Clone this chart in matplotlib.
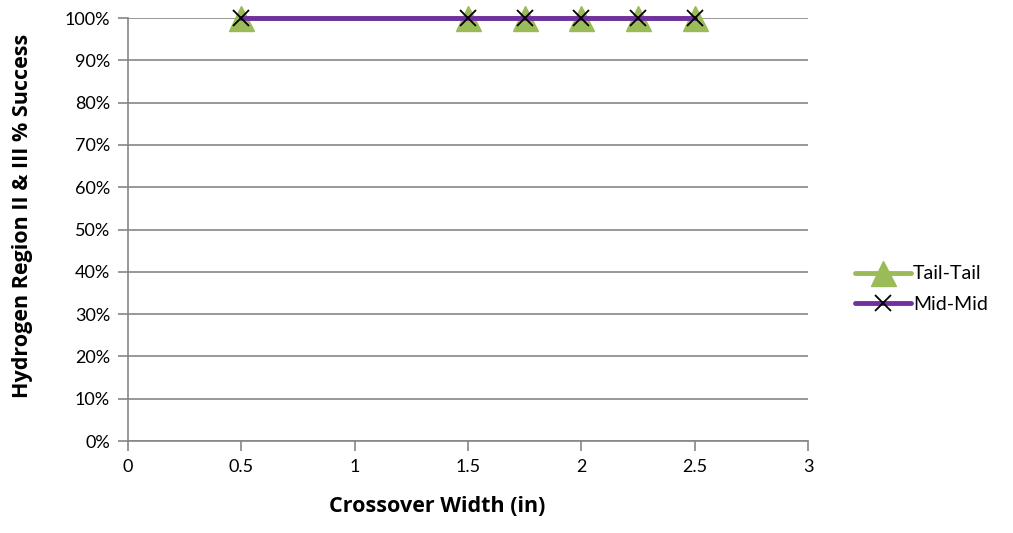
import matplotlib
matplotlib.use("Agg")
import matplotlib.pyplot as plt
from matplotlib.ticker import PercentFormatter

plt.rcParams['font.family'] = ['Lato', 'DejaVu Sans']

# data
width_in = [0.5, 1.5, 1.75, 2.0, 2.25, 2.5]
tail_tail = [1.0, 1.0, 1.0, 1.0, 1.0, 1.0]
mid_mid = [1.0, 1.0, 1.0, 1.0, 1.0, 1.0]

fig = plt.figure(figsize=(10.13, 5.33), dpi=100)
ax = fig.add_axes([0.1264, 0.1726, 0.6712, 0.7936])

ax.plot(width_in, tail_tail, color='#9BBB59', lw=3.5, marker='^', ms=18,
        label='Tail-Tail', solid_capstyle='round', zorder=3, clip_on=False)
ax.plot(width_in, mid_mid, color='#7030A0', lw=3.5, marker='x', ms=11,
        mec='black', mew=1.3, label='Mid-Mid', solid_capstyle='round',
        zorder=4, clip_on=False)

ax.set_xlim(0, 3)
ax.set_ylim(0, 1)
ax.set_xticks([0, 0.5, 1, 1.5, 2, 2.5, 3])
ax.set_xticklabels(['0', '0.5', '1', '1.5', '2', '2.5', '3'])
ax.set_yticks([i / 10 for i in range(11)])
ax.yaxis.set_major_formatter(PercentFormatter(1.0, decimals=0))

ax.grid(axis='y', color='#868686', lw=1.2)
ax.set_axisbelow(True)
for s in ['top', 'right']:
    ax.spines[s].set_visible(False)
for s in ['left', 'bottom']:
    ax.spines[s].set_color('#868686')
    ax.spines[s].set_linewidth(1.2)
ax.tick_params(axis='both', colors='#868686', length=7, width=1.2,
               labelsize=13, labelcolor='black', pad=6)

ax.set_xlabel('Crossover Width (in)', fontsize=15.5, fontweight='bold',
              family=['Open Sans', 'DejaVu Sans'])
ax.xaxis.set_label_coords(0.455, -0.13)
ax.set_ylabel('Hydrogen Region II & III % Success', fontsize=15.5,
              fontweight='bold', family=['Open Sans', 'DejaVu Sans'])
ax.yaxis.set_label_coords(-0.14, 0.532)

ax.legend(loc='center left', bbox_to_anchor=(1.043, 0.359), frameon=False,
          fontsize=14, handlelength=2.9, handletextpad=0.1, labelspacing=0.7)

fig.savefig('out.png', dpi=100)
